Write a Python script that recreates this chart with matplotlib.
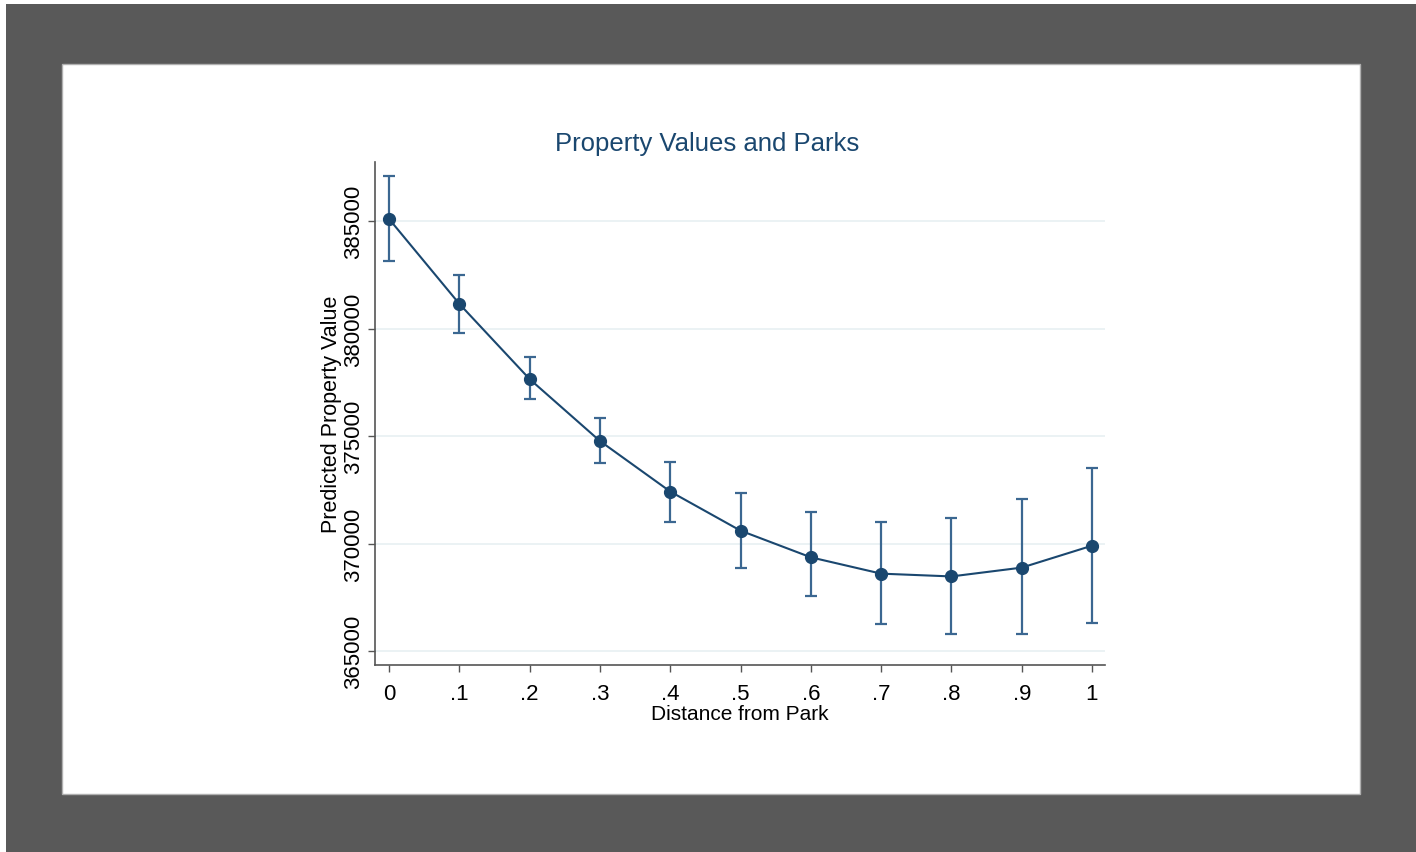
import matplotlib
matplotlib.use("Agg")
import matplotlib.pyplot as plt
from matplotlib.patches import Rectangle

# values
distance = [0, .1, .2, .3, .4, .5, .6, .7, .8, .9, 1]
predicted = [385100, 381150, 377650, 374770, 372420, 370600,
             369360, 368600, 368470, 368880, 369900]
ci_low = [383140, 379810, 376740, 373740, 371020, 368840,
          367550, 366270, 365770, 365800, 366290]
ci_high = [387090, 382470, 378670, 375840, 373810, 372330,
           371470, 371000, 371190, 372090, 373530]
xticks = [0, .1, .2, .3, .4, .5, .6, .7, .8, .9, 1]
xlabels = ["0", ".1", ".2", ".3", ".4", ".5", ".6", ".7", ".8", ".9", "1"]
yticks = [365000, 370000, 375000, 380000, 385000]

navy = "#1a476f"
plt.rcParams["font.family"] = ["Liberation Sans", "DejaVu Sans"]

fig = plt.figure(figsize=(14.16, 8.53), dpi=100)
fig.patch.set_facecolor("#595959")
# thin white strips on left/top edge and the white page
fig.patches.append(Rectangle((0, 0), 6 / 1416, 1, transform=fig.transFigure,
                             facecolor="white", edgecolor="none", zorder=-5))
fig.patches.append(Rectangle((0, 1 - 5 / 853), 1, 5 / 853, transform=fig.transFigure,
                             facecolor="white", edgecolor="none", zorder=-5))
fig.patches.append(Rectangle((62 / 1416, 58 / 853), (1360 - 62) / 1416, (795 - 65) / 853,
                             transform=fig.transFigure, facecolor="white",
                             edgecolor="#b0b0b0", linewidth=1, zorder=-5))

ax = fig.add_axes([375 / 1416, (853 - 666) / 853, 730 / 1416, 503 / 853])
ax.set_facecolor("white")

lo = [p - l for p, l in zip(predicted, ci_low)]
hi = [h - p for p, h in zip(predicted, ci_high)]
ax.errorbar(distance, predicted, yerr=[lo, hi], fmt="none", ecolor="#3b6791",
            elinewidth=1.6, capsize=4.5, capthick=1.6, zorder=2)
ax.plot(distance, predicted, color=navy, lw=1.5, marker="o", markersize=8.5, zorder=3)

ax.set_xlim(-0.02, 1.0185)
ax.set_ylim(364350, 387750)
ax.set_xticks(xticks)
ax.set_xticklabels(xlabels)
ax.set_yticks(yticks)
ax.set_yticklabels([str(v) for v in yticks], rotation=90, va="center")
ax.grid(axis="y", color="#e8f0f2", lw=1.2)
ax.set_axisbelow(True)

for s in ["top", "right"]:
    ax.spines[s].set_visible(False)
for s in ["left", "bottom"]:
    ax.spines[s].set_color("#555555")
    ax.spines[s].set_linewidth(1.2)
ax.tick_params(axis="both", direction="out", length=5, width=1, color="#555555",
               labelsize=16, labelcolor="black")
ax.tick_params(axis="y", pad=3)
ax.tick_params(axis="x", pad=8)

ax.set_xlabel("Distance from Park", fontsize=15, labelpad=0)
ax.set_ylabel("Predicted Property Value", fontsize=15.5, labelpad=1)
fig.text(707 / 1416, 1 - 144 / 853, "Property Values and Parks", fontsize=18.5,
         color=navy, ha="center", va="center")

fig.savefig("out.png", dpi=100, facecolor=fig.get_facecolor())
